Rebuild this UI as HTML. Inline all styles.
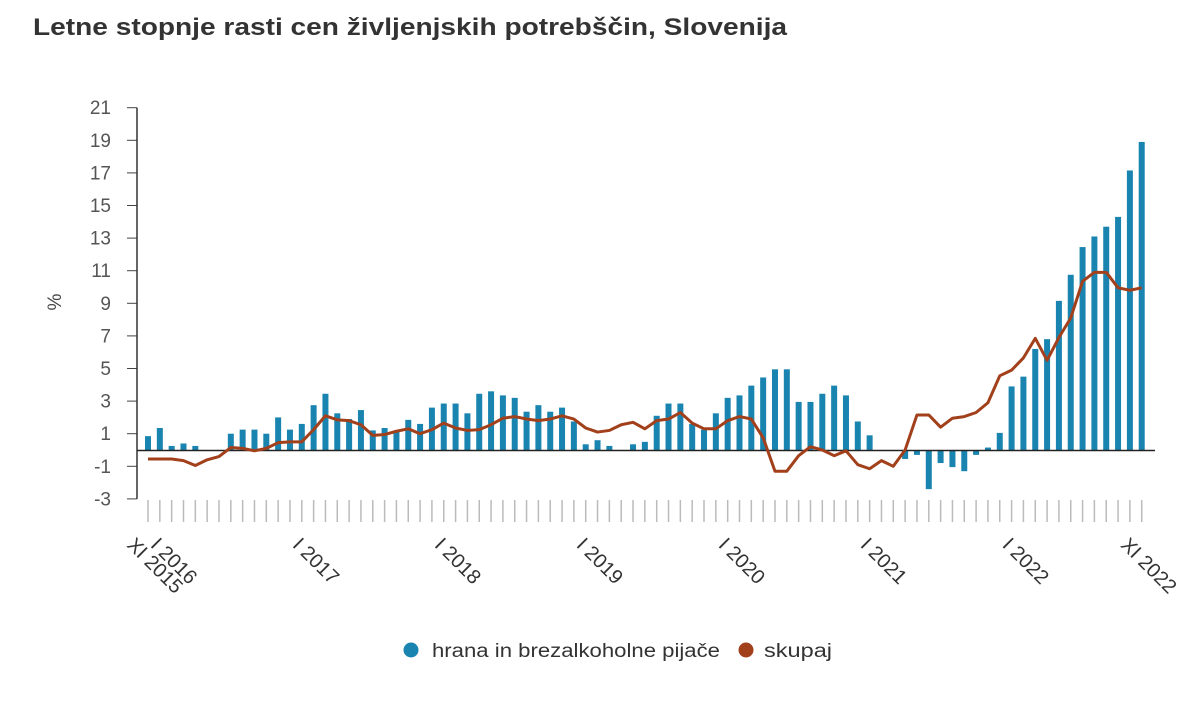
<!DOCTYPE html>
<html><head><meta charset="utf-8"><style>
body{margin:0;background:#fff;width:1200px;height:707px;overflow:hidden;font-family:"Liberation Sans",sans-serif}
</style></head><body>
<svg id="s" width="1200" height="707" xmlns="http://www.w3.org/2000/svg" font-family="Liberation Sans, sans-serif">
<text x="33" y="35" font-size="24" font-weight="bold" fill="#333" textLength="754" lengthAdjust="spacingAndGlyphs">Letne stopnje rasti cen življenjskih potrebščin, Slovenija</text>
<text transform="translate(61,302) rotate(-90)" font-size="19" fill="#444" text-anchor="middle">%</text>
<g id="g"></g>
<circle cx="411" cy="650" r="7.5" fill="#1a84b0"/>
<text x="432" y="657" font-size="19" fill="#333" textLength="288" lengthAdjust="spacingAndGlyphs">hrana in brezalkoholne pijače</text>
<circle cx="746" cy="650" r="7.5" fill="#a2401c"/>
<text x="764" y="657" font-size="19" fill="#333" textLength="68" lengthAdjust="spacingAndGlyphs">skupaj</text>
</svg>
<script>
var food=[0.85,1.35,0.25,0.4,0.25,0,0,1.0,1.25,1.25,1.0,2.0,1.25,1.6,2.75,3.45,2.25,1.9,2.45,1.2,1.35,1.2,1.85,1.6,2.6,2.85,2.85,2.25,3.45,3.6,3.35,3.2,2.35,2.75,2.35,2.6,1.75,0.35,0.6,0.25,0,0.35,0.5,2.1,2.85,2.85,1.6,1.25,2.25,3.2,3.35,3.95,4.45,4.95,4.95,2.95,2.95,3.45,3.95,3.35,1.75,0.9,0,0,-0.55,-0.3,-2.4,-0.8,-1.05,-1.3,-0.3,0.15,1.05,3.9,4.5,6.2,6.8,9.15,10.75,12.45,13.1,13.7,14.3,17.15,18.9];
var tot=[-0.55,-0.55,-0.55,-0.65,-0.95,-0.6,-0.4,0.15,0.1,-0.05,0.1,0.45,0.5,0.5,1.25,2.1,1.85,1.8,1.55,0.9,0.95,1.15,1.3,1.0,1.25,1.65,1.35,1.2,1.25,1.55,1.95,2.05,1.9,1.8,1.9,2.1,1.9,1.35,1.1,1.2,1.55,1.7,1.3,1.8,1.9,2.3,1.65,1.3,1.3,1.8,2.05,1.9,0.75,-1.3,-1.3,-0.35,0.2,0,-0.35,-0.05,-0.9,-1.15,-0.65,-1.0,0,2.15,2.15,1.4,1.95,2.05,2.3,2.9,4.55,4.9,5.65,6.85,5.5,6.9,8.1,10.35,10.9,10.9,9.95,9.8,9.95];
function X(i){return 148+i*11.83}function Y(v){return 450-v*16.3}
var h='';
for(var v=-3;v<=21;v+=2){var y=Y(v);h+='<line x1="127" x2="137" y1="'+y+'" y2="'+y+'" stroke="#444"/><text x="111" y="'+(y+6.5)+'" font-size="19" fill="#555" text-anchor="end">'+v+'</text>';}
h+='<line x1="137" x2="137" y1="'+Y(21)+'" y2="'+Y(-3)+'" stroke="#333" stroke-width="1.5"/>';
for(var i=0;i<85;i++){var x=X(i);h+='<line x1="'+x+'" x2="'+x+'" y1="500" y2="522" stroke="#bbb" stroke-width="1.5"/>';
var f=food[i];if(f!=0){var y0=Math.min(Y(f),450),hh=Math.abs(f)*16.3;h+='<rect x="'+(x-3)+'" y="'+y0+'" width="6" height="'+hh+'" fill="#1a84b0"/>';}}
h+='<line x1="137" x2="1155" y1="450.5" y2="450.5" stroke="#222" stroke-width="1.5"/>';
var p='';for(var i=0;i<85;i++)p+=(i?'L':'M')+X(i)+' '+Y(tot[i]);
h+='<path d="'+p+'" fill="none" stroke="#a2401c" stroke-width="3" stroke-linejoin="round"/>';
var labs=[[0,"XI 2015"],[2,"I 2016"],[14,"I 2017"],[26,"I 2018"],[38,"I 2019"],[50,"I 2020"],[62,"I 2021"],[74,"I 2022"],[84,"XI 2022"]];
labs.forEach(function(l){var x=X(l[0])-22;h+='<text transform="translate('+x+',546) rotate(45)" font-size="20" fill="#333">'+l[1]+'</text>';});
document.getElementById('g').innerHTML=h;
</script>
</body></html>
